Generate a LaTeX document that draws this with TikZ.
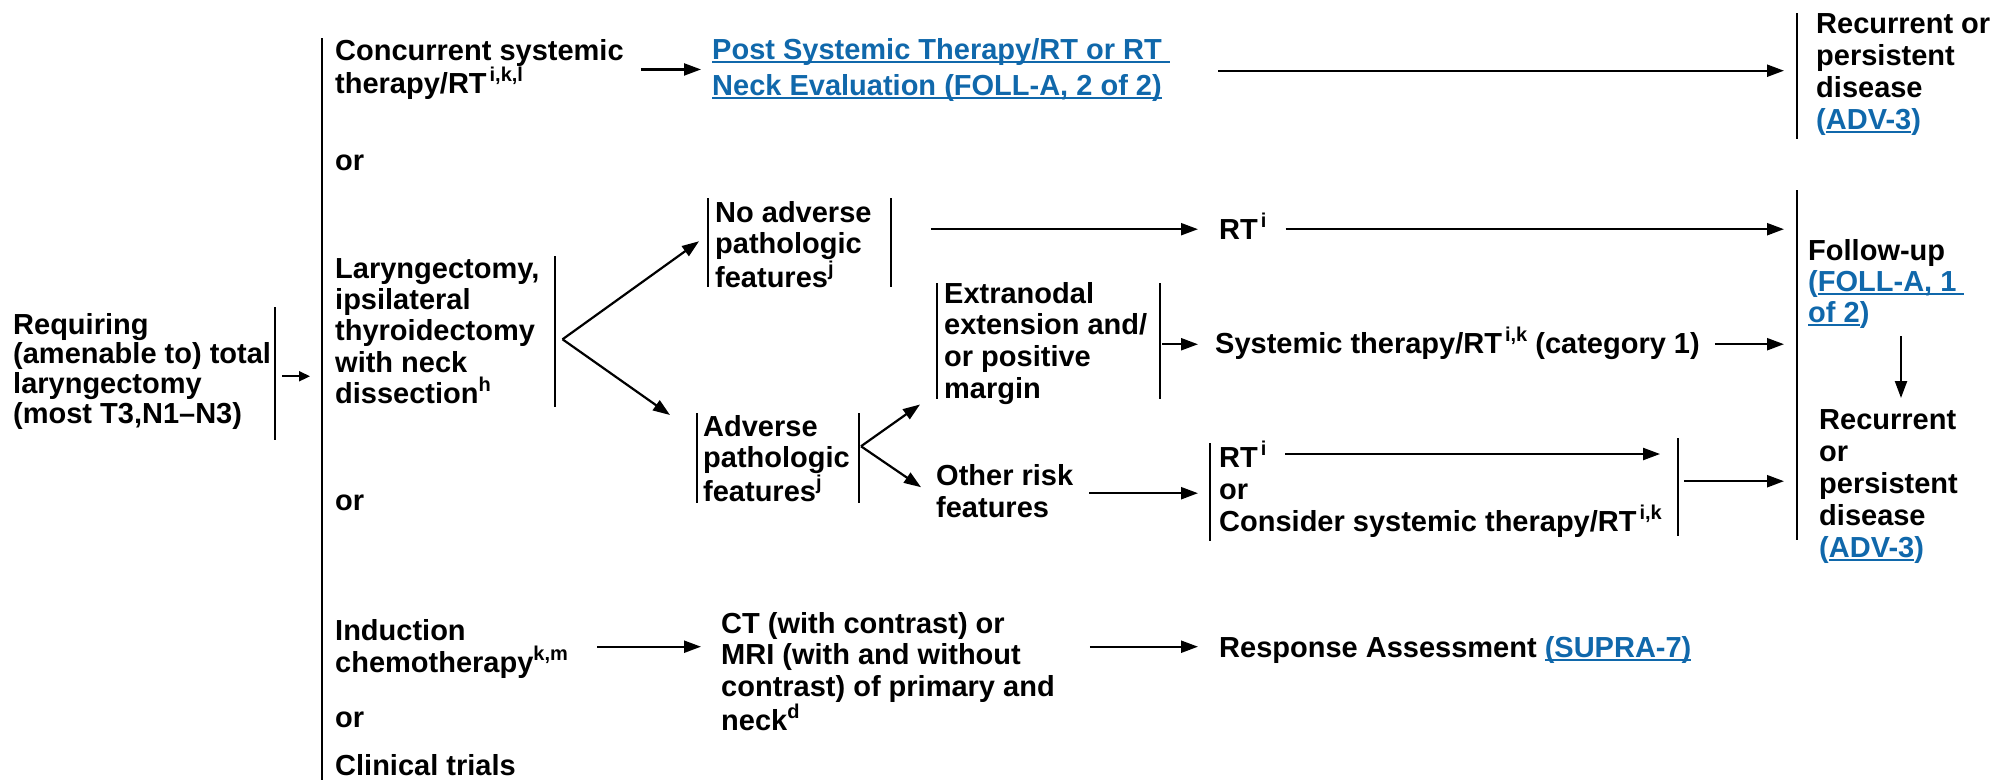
\documentclass[tikz,border=0pt]{standalone}
\usepackage{fontspec}
\setmainfont{Liberation Sans}
\usetikzlibrary{arrows.meta,calc}

\definecolor{linkblue}{RGB}{16,104,171}
\newsavebox\lnkbox
\newcommand{\lnkline}[1]{\sbox\lnkbox{#1}\rlap{\usebox\lnkbox}\rule[-3.6pt]{\wd\lnkbox}{1.4pt}}
\newcommand{\lnk}[1]{{\color{linkblue}\lnkline{#1}}}
\newcommand{\fn}[1]{\raisebox{12pt}{\fontsize{20}{20}\selectfont #1}}
\newcommand{\rtfn}[1]{\kern3pt\fn{#1}}
\newcommand{\tp}{\rule{0pt}{29pt}}
\newcommand{\bt}{\rule[-8pt]{0pt}{8pt}}

\tikzset{
  txt/.style={anchor=north west, inner sep=0pt, align=left,
    font=\bfseries\fontsize{29}{#1}\selectfont},
  txt/.default=31.5,
  arr/.style={-{Triangle[length=17pt,width=12pt]}, line width=2.2pt},
  arrsmall/.style={-{Triangle[length=11pt,width=10pt]}, line width=2.2pt},
  bar/.style={line width=2.2pt}
}

\begin{document}
\begin{tikzpicture}[x=1pt,y=-1pt]
  \useasboundingbox (0,0) rectangle (1997,780);

  % 左の列
  \node[txt=29.7] (req) at (13,305) {\tp Requiring\\(amenable to) total\\laryngectomy\\(most T3,N1--N3)\bt};
  \node[txt] (conc) at (335,31) {\tp Concurrent systemic\\therapy/RT\rtfn{i,k,l}\bt};
  \node[txt] (or1) at (335,141) {\tp or\bt};
  \node[txt=31.3] (lar) at (335,249) {\tp Laryngectomy,\\ipsilateral\\thyroidectomy\\with neck\\dissection\fn{h}\bt};
  \node[txt] (or2) at (335,481) {\tp or\bt};
  \node[txt=32] (ind) at (335,611) {\tp Induction\\chemotherapy\fn{k,m}\bt};
  \node[txt] (or3) at (335,698) {\tp or\bt};
  \node[txt] (clin) at (335,746) {\tp Clinical trials\bt};

  % 中央の列
  \node[txt=36] (post) at (712,30) {\tp\lnk{Post Systemic Therapy/RT or RT\ }\\\lnk{Neck Evaluation (FOLL-A, 2 of 2)}\bt};
  \node[txt] (noadv) at (715,193) {\tp No adverse\\pathologic\\features\fn{j}\bt};
  \node[txt] (adv) at (703,407) {\tp Adverse\\pathologic\\features\fn{j}\bt};
  \node[txt=31.7] (extr) at (944,274) {\tp Extranodal\\extension and/\\or positive\\margin\bt};
  \node[txt=32] (oth) at (936,456) {\tp Other risk\\features\bt};
  \node[txt=31.7] (ct) at (721,604) {\tp CT (with contrast) or\\MRI (with and without\\contrast) of primary and\\neck\fn{d}\bt};

  % 右の列
  \node[txt] (rt1) at (1219,210) {\tp RT\rtfn{i}\bt};
  \node[txt] (sys) at (1215,324) {\tp Systemic therapy/RT\rtfn{i,k} (category 1)\bt};
  \node[txt=32] (rtor) at (1219,438) {\tp RT\rtfn{i}\\or\\Consider systemic therapy/RT\rtfn{i,k}\bt};
  \node[txt] (resp) at (1219,628) {\tp Response Assessment \lnk{(SUPRA-7)}\bt};
  \node[txt=32] (rec1) at (1816,4) {\tp Recurrent or\\persistent\\disease\\{\color{linkblue}(\lnkline{ADV-3})}\bt};
  \node[txt=31] (fol) at (1808,231) {\tp Follow-up\\{\color{linkblue}(\lnkline{FOLL-A, 1\ }}\\{\color{linkblue}\lnkline{of 2})}\bt};
  \node[txt=32] (rec2) at (1819,400) {\tp Recurrent\\or\\persistent\\disease\\{\color{linkblue}(\lnkline{ADV-3})}\bt};

  % 縦線
  \draw[bar] (275,307) -- (275,440);
  \draw[bar, line width=2.6pt] (322,38) -- (322,780);
  \draw[bar] (555,256) -- (555,407);
  \draw[bar] (708,198) -- (708,287);
  \draw[bar] (891,198) -- (891,287);
  \draw[bar] (697,413) -- (697,503);
  \draw[bar] (859,413) -- (859,503);
  \draw[bar] (937,283) -- (937,399);
  \draw[bar] (1160,283) -- (1160,399);
  \draw[bar] (1210,443) -- (1210,541);
  \draw[bar] (1678,438) -- (1678,536);
  \draw[bar] (1797,13) -- (1797,139);
  \draw[bar] (1797,190) -- (1797,540);

  % 矢印
  \draw[arrsmall] ($(req.east)+(11,8)$) -- ($(req.east -| lar.west)+(-25,8)$);
  \draw[arr] ($(conc.east)+(17,3)$) -- ($(conc.east -| post.west)+(-11,3)$);
  \draw[arr] ($(post.east)+(48,4)$) -- ($(post.east -| rec1.west)+(-32,4)$);
  \draw[arr] ($(lar.east)+(23,9)$) -- ($(noadv.west)+(-16,-3)$);
  \draw[arr] ($(lar.east)+(23,9)$) -- ($(adv.north west)+(-33,8)$);
  \draw[arr] ($(noadv.east |- rt1.west)+(59,0.5)$) -- ($(rt1.west)+(-21,0.5)$);
  \draw[arr] ($(rt1.east)+(19,0.5)$) -- ($(rt1.east -| fol.west)+(-24,0.5)$);
  \draw[arr] ($(extr.east)+(15,4)$) -- ($(extr.east -| sys.west)+(-17,4)$);
  \draw[arr] ($(sys.east)+(15,1.5)$) -- ($(sys.east -| fol.west)+(-24,1.5)$);
  \draw[arr] ($(adv.east)+(11,-12)$) -- ($(extr.south west)+(-24,-2)$);
  \draw[arr] ($(adv.east)+(11,-12)$) -- ($(oth.west)+(-15,-3.5)$);
  \draw[arr] ($(oth.east)+(16,2.5)$) -- ($(oth.east -| rtor.west)+(-21,2.5)$);
  \draw[arr] ($(rtor.north west)+(66,16)$) -- ($(rtor.north east)+(-2,16)$);
  \draw[arr] ($(rtor.east)+(22,-7.5)$) -- ($(rtor.east -| rec2.west)+(-35,-7.5)$);
  \draw[arr] ($(fol.south west)+(93,6)$) -- ($(fol.south west |- rec2.north)+(93,-2)$);
  \draw[arr] ($(ind.east)+(29,1)$) -- ($(ind.east -| ct.west)+(-20,1)$);
  \draw[arr] ($(ct.east |- ind.east)+(35,1)$) -- ($(ind.east -| resp.west)+(-21,1)$);
\end{tikzpicture}
\end{document}
